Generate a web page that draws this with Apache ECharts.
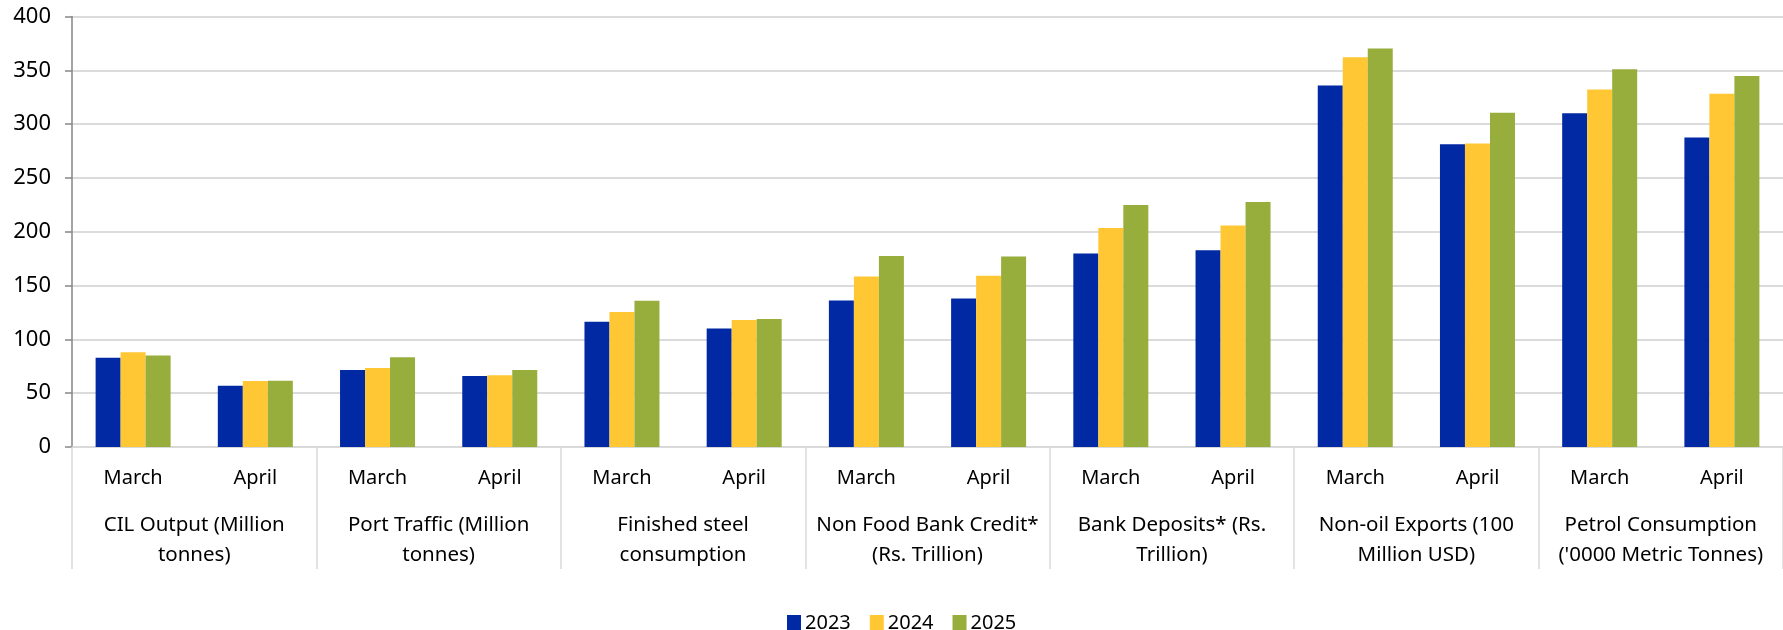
<!DOCTYPE html>
<html>
<head>
<meta charset="utf-8">
<script src="https://cdn.jsdelivr.net/npm/echarts@6/dist/echarts.min.js"></script>
<style>
html,body{margin:0;padding:0;background:#fff;}
#c{width:1783px;height:630px;}
</style>
</head>
<body>
<div id="c"></div>
<script>
const months = ['March','April','March','April','March','April','March','April','March','April','March','April','March','April'];
const groups = ['CIL Output (Million\ntonnes)','Port Traffic (Million\ntonnes)','Finished steel\nconsumption','Non Food Bank Credit*\n(Rs. Trillion)','Bank Deposits* (Rs.\nTrillion)','Non-oil Exports (100\nMillion USD)','Petrol Consumption\n(\'0000 Metric Tonnes)'];
const seriesNames = ['2023','2024','2025'];
const v2023 = [83, 57, 71.5, 66, 116.4, 110.2, 136.2, 138, 179.9, 182.7, 335.9, 281.4, 310.2, 287.6];
const v2024 = [88, 61.3, 73.4, 66.6, 125.4, 118, 158.5, 159.1, 203.4, 205.9, 362.2, 282, 332.2, 328.2];
const v2025 = [85, 61.6, 83.3, 71.5, 135.9, 118.9, 177.4, 177.1, 224.8, 227.6, 370.3, 310.5, 351.1, 344.6];
const yTicks = [0, 50, 100, 150, 200, 250, 300, 350, 400];

const colors = ['#0029A3', '#FFC733', '#97AD3C'];
const font = '"Noto Sans", sans-serif';
const chart = echarts.init(document.getElementById('c'), null, {renderer: 'canvas'});
const values = [v2023, v2024, v2025];
chart.setOption({
  animation: false,
  color: colors,
  grid: {left: 72, right: 0, top: 16.5, bottom: 183, containLabel: false},
  legend: {
    data: seriesNames, left: 782, top: 608, itemWidth: 14, itemHeight: 16, itemGap: 19,
    icon: 'rect',
    textStyle: {fontFamily: font, fontSize: 20, color: '#000', padding: [0,0,0,-1]}
  },
  xAxis: [
    {
      type: 'category', data: months, position: 'bottom',
      axisLine: {show: true, lineStyle: {color: '#d9d9d9', width: 1.5}},
      axisTick: {show: false},
      axisLabel: {fontFamily: font, fontSize: 20, color: '#000', margin: 21, interval: 0}
    },
    {
      type: 'category', data: groups, position: 'bottom',
      axisLine: {show: false},
      axisTick: {show: true, length: 122, lineStyle: {color: '#d9d9d9', width: 1.5}},
      axisLabel: {fontFamily: font, fontSize: 20.5, color: '#000', margin: 63, lineHeight: 30, interval: 0}
    }
  ],
  yAxis: {
    type: 'value', min: yTicks[0], max: yTicks[yTicks.length - 1], interval: 50,
    axisLine: {show: true, lineStyle: {color: '#868686', width: 1.5}},
    axisTick: {show: true, length: 7, lineStyle: {color: '#868686', width: 1.5}},
    axisLabel: {fontFamily: font, fontSize: 22, color: '#000', margin: 21},
    splitLine: {lineStyle: {color: '#cfcfcf', width: 1.5}}
  },
  series: seriesNames.map((n, i) => ({
    name: n, type: 'bar', xAxisIndex: 0, data: values[i],
    barWidth: 25, barGap: '0%',
    itemStyle: {color: colors[i]}
  }))
});
</script>
</body>
</html>
